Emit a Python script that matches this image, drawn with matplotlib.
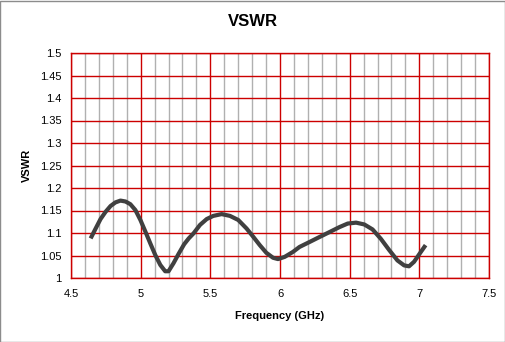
import matplotlib
matplotlib.use("Agg")
import matplotlib.pyplot as plt
from matplotlib.patches import Rectangle
from matplotlib.ticker import MultipleLocator

freq = [4.641, 4.677, 4.712, 4.748, 4.784, 4.819, 4.855, 4.891, 4.926, 4.962,
        4.998, 5.034, 5.069, 5.105, 5.141, 5.176, 5.200, 5.236, 5.271, 5.312,
        5.345, 5.379, 5.426, 5.474, 5.521, 5.581, 5.641, 5.700, 5.760, 5.807,
        5.855, 5.902, 5.950, 5.986, 6.034, 6.093, 6.140, 6.212, 6.283, 6.355,
        6.426, 6.486, 6.546, 6.605, 6.664, 6.724, 6.784, 6.843, 6.891, 6.926,
        6.962, 7.002, 7.045]
vswr = [1.088, 1.110, 1.131, 1.147, 1.160, 1.168, 1.172, 1.170, 1.164, 1.151,
        1.129, 1.103, 1.077, 1.051, 1.029, 1.015, 1.015, 1.033, 1.053, 1.075,
        1.088, 1.099, 1.118, 1.131, 1.138, 1.142, 1.138, 1.129, 1.110, 1.092,
        1.073, 1.056, 1.045, 1.042, 1.047, 1.058, 1.069, 1.080, 1.091, 1.102,
        1.113, 1.121, 1.123, 1.119, 1.108, 1.087, 1.062, 1.039, 1.028, 1.026,
        1.036, 1.054, 1.073]
xticks = [4.5, 5, 5.5, 6, 6.5, 7, 7.5]
yticks = [1, 1.05, 1.1, 1.15, 1.2, 1.25, 1.3, 1.35, 1.4, 1.45, 1.5]

W, H = 506, 342
fig = plt.figure(figsize=(W / 100, H / 100), dpi=100)
fig.patches.append(Rectangle((0.5 / W, 0.5 / H), 1 - 1.5 / W, 1 - 1.5 / H,
                             transform=fig.transFigure, fill=False,
                             edgecolor="#8c8c8c", linewidth=1.0))
l, r, t, b = 71, 489, 53, 278
ax = fig.add_axes([l / W, 1 - b / H, (r - l) / W, (b - t) / H])

ax.set_xlim(4.5, 7.5)
ax.set_ylim(1, 1.5)
ax.set_xticks(xticks)
ax.set_xticklabels([f"{v:g}" for v in xticks])
ax.set_yticks(yticks)
ax.set_yticklabels([f"{v:g}" for v in yticks])
ax.xaxis.set_minor_locator(MultipleLocator(0.1))

ax.grid(which="minor", axis="x", color="#b0b0b0", linewidth=1.0)
ax.grid(which="major", axis="both", color="#cc0000", linewidth=1.0)
ax.set_axisbelow(True)
for s in ax.spines.values():
    s.set_color("#cc0000")
    s.set_linewidth(1.0)
ax.tick_params(which="both", length=0)
ax.tick_params(axis="x", pad=8)
ax.tick_params(axis="y", pad=7)

font = "Liberation Sans"
for lab in ax.get_xticklabels() + ax.get_yticklabels():
    lab.set_fontfamily(font)
    lab.set_fontsize(8)

ax.plot(freq, vswr, color="#404040", linewidth=3.0, solid_capstyle="butt",
        solid_joinstyle="round", zorder=3)

fig.text(0.5, 1 - 22 / H, "VSWR", ha="center", va="center", fontsize=12,
         fontweight="bold", family=font)
fig.text(280 / W, 1 - 316 / H, "Frequency (GHz)", ha="center", va="center",
         fontsize=8, fontweight="bold", family=font)
fig.text(27 / W, 1 - 165 / H, "VSWR", ha="center", va="center", rotation=90,
         fontsize=8, fontweight="bold", family=font)

fig.savefig("out.png", dpi=100)
